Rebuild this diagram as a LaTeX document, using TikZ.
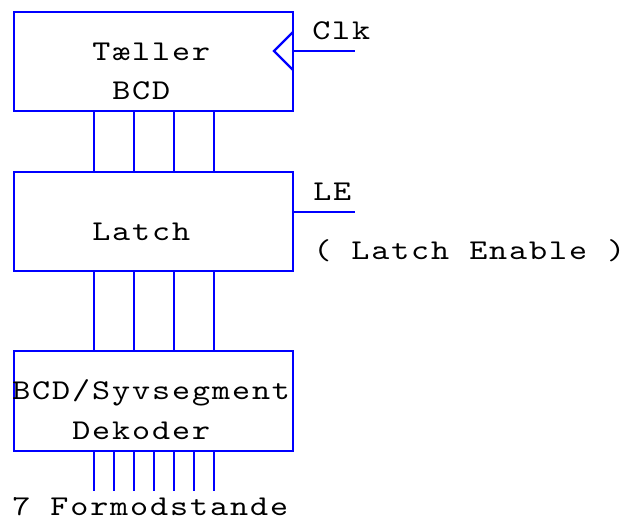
\documentclass[tikz,border=0pt]{standalone}
\usepackage{fontspec}
\newfontfamily\cour{lmmono10-regular.otf}[FakeStretch=1.2,LetterSpace=6.7]
\usetikzlibrary{calc}
\tikzset{
  wire/.style={draw=blue, line width=1.6pt},
  blk/.style={draw=blue, line width=1.6pt, inner sep=0pt, outer sep=0pt, minimum width=209.25pt},
  lbl/.style={inner sep=0pt, anchor=base west, font=\cour\fontsize{21.5pt}{24pt}\selectfont}
}
\begin{document}
\begin{tikzpicture}[x=0.75pt,y=-0.75pt]
\useasboundingbox (0,0) rectangle (631,521);
% blocks
\node[blk, minimum height=74.25pt] (cnt) at (153.5,61.5) {};
\node[blk, minimum height=74.25pt] (latch) at (153.5,221.5) {};
\node[blk, minimum height=75pt] (dec) at (153.5,401) {};
% texts
\node[lbl] (t1) at (92,60) {Tæller};
\node[lbl] (t2) at (112,99) {BCD};
\node[lbl] (t3) at (92,240) {Latch};
\node[lbl] (t4) at (12,399) {BCD/Syvsegment};
\node[lbl] (t5) at (72,439) {Dekoder};
\node[lbl] (t6) at (12,515) {7 Formodstande};
\node[lbl] (clk) at (312,39) {Clk};
\node[lbl] (le) at (313,200) {LE};
\node[lbl] (lee) at (313,259) {( Latch Enable )};
% bus connections
\foreach \x in {94,134,174,214} {
  \coordinate (p\x) at (\x,0);
  \draw[wire] (cnt.south -| p\x) -- (latch.north -| p\x);
  \draw[wire] (latch.south -| p\x) -- (dec.north -| p\x);
}
% seven outputs
\foreach \x in {94,114,...,214} {
  \coordinate (q\x) at (\x,491);
  \draw[wire] (dec.south -| q\x) -- (q\x);
}
% clock input
\coordinate (clkin) at (293,51);
\coordinate (clkend) at (355,51);
\draw[wire] (clkin) -- (clkend);
\draw[wire] ($(clkin)+(0,-19)$) -- ($(clkin)+(-19,0)$) -- ($(clkin)+(0,19)$);
% latch enable
\coordinate (lein) at (293,212);
\coordinate (leend) at (355,212);
\draw[wire] (lein) -- (leend);
\end{tikzpicture}
\end{document}
